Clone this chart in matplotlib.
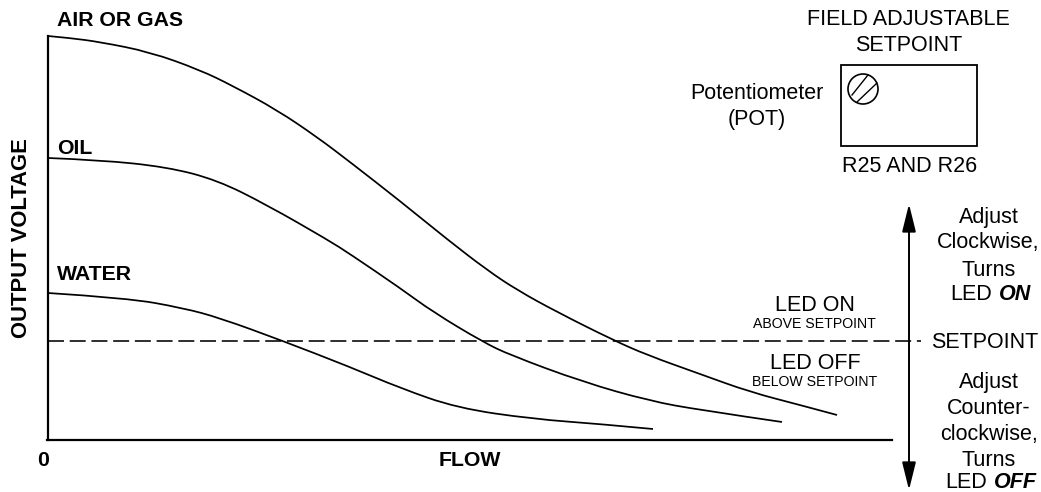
import matplotlib
matplotlib.use("Agg")
import matplotlib.pyplot as plt
from matplotlib.patches import Circle, PathPatch, Rectangle
from matplotlib.path import Path

plt.rcParams["font.family"] = ["Liberation Sans", "DejaVu Sans"]

# curves, in picture pixels
air_x = [48, 70, 100, 150, 200, 233, 277, 317, 350, 400, 448, 487, 517, 557, 613, 647, 700, 750, 800, 837]
air_y = [36, 38, 42, 52, 70, 86, 110, 137, 162, 201, 240, 270, 290, 312, 340, 355, 374, 392, 405, 415]
oil_x = [48, 100, 167, 217, 267, 328, 350, 400, 433, 483, 510, 583, 650, 700, 782]
oil_y = [158, 160, 167, 180, 205, 240, 254, 288, 312, 342, 355, 382, 401, 410, 422]
water_x = [48, 127, 183, 220, 283, 350, 400, 457, 533, 600, 653]
water_y = [293, 298, 308, 318, 341, 367, 388, 408, 419, 424, 429]

setpoint_y = 341


def smooth_curve(xs, ys):
    # quadratic segments between midpoints, the read points are the controls
    verts = [(xs[0], ys[0])]
    codes = [Path.MOVETO]
    for i in range(1, len(xs) - 1):
        verts.append((xs[i], ys[i]))
        codes.append(Path.CURVE3)
        if i < len(xs) - 2:
            verts.append(((xs[i] + xs[i + 1]) / 2, (ys[i] + ys[i + 1]) / 2))
        else:
            verts.append((xs[-1], ys[-1]))
        codes.append(Path.CURVE3)
    return Path(verts, codes)


fig = plt.figure(figsize=(10.41, 4.92), dpi=100)
ax = fig.add_axes([0, 0, 1, 1])
ax.set_xlim(0, 1041)
ax.set_ylim(492, 0)
ax.axis("off")

for xs, ys in [(air_x, air_y), (oil_x, oil_y), (water_x, water_y)]:
    ax.add_patch(PathPatch(smooth_curve(xs, ys), fill=False, ec="black", lw=1.25))

# axes
ax.plot([48, 48], [36, 440], color="black", lw=1.6)
ax.plot([47, 892], [440, 440], color="black", lw=1.6)
ax.plot([48, 921], [setpoint_y, setpoint_y], color="black", lw=1.15, dashes=(10, 3.6))

# up/down arrow
ax.annotate("", xy=(909, 204), xytext=(909, 490),
            arrowprops=dict(arrowstyle="<|-|>,head_length=1.7,head_width=0.42", color="black",
                            lw=1.4, mutation_scale=10, shrinkA=0, shrinkB=0))

bold = dict(fontsize=15.3, fontweight="bold", color="black")
reg = dict(fontsize=15.5, color="black", ha="center", va="center_baseline")
small = dict(fontsize=10.2, color="black", ha="center", va="center_baseline")
boldit = dict(fontsize=15.5, fontweight="bold", style="italic", ha="center", va="center_baseline")
ax.text(57, 18, "AIR OR GAS", va="center_baseline", **bold)
ax.text(57, 146, "OIL", va="center_baseline", **bold)
ax.text(57, 273, "WATER", va="center_baseline", **bold)
ax.text(43, 458, "0", ha="center", va="center_baseline", **bold)
ax.text(470, 459, "FLOW", ha="center", va="center_baseline", **bold)
ax.text(22, 238, "OUTPUT VOLTAGE", rotation=90, ha="center", va="center",
        fontsize=15.8, fontweight="bold", color="black")

ax.text(815, 303, "LED ON", **reg)
ax.text(814, 323, "ABOVE SETPOINT", **small)
ax.text(815, 361, "LED OFF", **reg)
ax.text(815, 380, "BELOW SETPOINT", **small)
ax.text(985, 340, "SETPOINT", **reg)

ax.text(908, 17, "FIELD ADJUSTABLE", **reg)
ax.text(909, 43, "SETPOINT", **reg)
ax.text(910, 164, "R25 AND R26", **reg)
ax.text(757, 91, "Potentiometer", **reg)
ax.text(757, 117, "(POT)", **reg)

ax.text(989, 215, "Adjust", **reg)
ax.text(988, 240, "Clockwise,", **reg)
ax.text(989, 268, "Turns", **reg)
ax.text(971, 292, "LED", **reg)
ax.text(1015, 292, "ON", **boldit)
ax.text(989, 380, "Adjust", **reg)
ax.text(989, 406, "Counter-", **reg)
ax.text(989, 432, "clockwise,", **reg)
ax.text(989, 458, "Turns", **reg)
ax.text(966, 480, "LED", **reg)
ax.text(1015, 480, "OFF", **boldit)

# pot box
ax.add_patch(Rectangle((841, 65), 136, 81, fill=False, ec="black", lw=1.3))
ax.add_patch(Circle((863, 89), 15, fill=False, ec="black", lw=1.2))
ax.plot([852, 868], [95, 75], color="black", lw=1)
ax.plot([857, 877], [102, 83], color="black", lw=1)

fig.savefig("out.png", dpi=100)
